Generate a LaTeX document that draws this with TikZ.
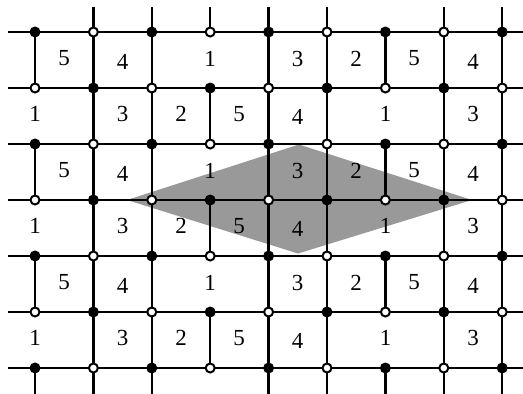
\documentclass[tikz,border=0pt]{standalone}
\usepackage{fontspec}
\setmainfont{Liberation Serif}
\begin{document}
\begin{tikzpicture}[x=1pt,y=-1pt,
  gridline/.style={line width=2.4pt,black},
  vtx0/.style={circle,fill=black,draw=none,inner sep=0pt,minimum size=11pt},
  vtx1/.style={circle,draw=black,fill=white,line width=2pt,inner sep=0pt,minimum size=9pt},
  lab/.style={font=\fontsize{23}{27}\selectfont,inner sep=0pt},
  shade/.style={fill=black!40,draw=none}]
\useasboundingbox (0,0) rectangle (523,394);
% grid points
\foreach \i in {0,...,8}{
  \foreach \j in {0,...,6}{
    \coordinate (p-\i-\j) at ({35+58.4*\i},{32+56*\j});
  }
  \coordinate (t-\i) at ({35+58.4*\i},7);
  \coordinate (b-\i) at ({35+58.4*\i},394);
}
\foreach \j in {0,...,6}{
  \coordinate (l-\j) at (8,{32+56*\j});
  \coordinate (r-\j) at (523,{32+56*\j});
}
% shaded rhombus
\coordinate (dl) at (127,200);
\coordinate (dt) at (299,144.5);
\coordinate (dr) at (472,200);
\coordinate (db) at (298,253.5);
\fill[shade] (dl) -- (dt) -- (dr) -- (db) -- cycle;
% horizontal lines
\foreach \j in {0,...,6}{ \draw[gridline] (l-\j) -- (r-\j); }
% vertical segments
\foreach \j in {0,2,4}{
  \pgfmathtruncatemacro\k{\j+1}
  \foreach \i in {0,1,2,4,5,6,7,8}{ \draw[gridline] (p-\i-\j) -- (p-\i-\k); }
}
\foreach \j in {1,3,5}{
  \pgfmathtruncatemacro\k{\j+1}
  \foreach \i in {1,2,3,4,5,7,8}{ \draw[gridline] (p-\i-\j) -- (p-\i-\k); }
}
\foreach \i in {1,2,3,4,5,7,8}{ \draw[gridline] (t-\i) -- (p-\i-0); }
\foreach \i in {0,1,2,4,5,6,7,8}{ \draw[gridline] (p-\i-6) -- (b-\i); }
% labels
\foreach \j in {0,2,4}{
  \foreach \x/\t [count=\n] in {64/5,122.5/4,210/1,297.5/3,356/2,414/5,473/4}{
    \pgfmathsetmacro\yy{60+56*\j+(\t==4 ? 2 : -1.5)}
    \node[lab] (lab-\j-\n) at (\x,\yy) {\t};
  }
}
\foreach \j in {1,3,5}{
  \foreach \x/\t [count=\n] in {35/1,122.5/3,181/2,239/5,297.5/4,385.5/1,473/3}{
    \pgfmathsetmacro\yy{60+56*\j+(\t==4 ? 1 : -2)}
    \node[lab] (lab-\j-\n) at (\x,\yy) {\t};
  }
}
% vertices
\foreach \i in {0,...,8}{
  \foreach \j in {0,...,6}{
    \pgfmathtruncatemacro\dpar{mod(\i+\j,2)}
    \node[vtx\dpar] (d-\i-\j) at (p-\i-\j) {};
  }
}
\end{tikzpicture}
\end{document}
